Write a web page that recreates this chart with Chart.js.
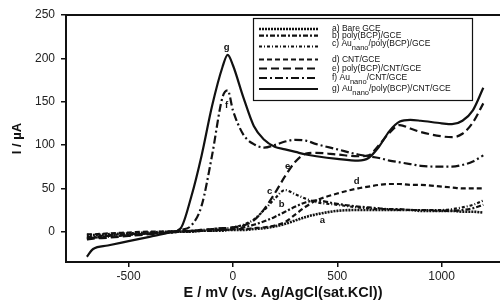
<!DOCTYPE html>
<html>
<head>
<meta charset="utf-8">
<script src="https://cdn.jsdelivr.net/npm/chart.js@4/dist/chart.umd.min.js"></script>
<style>
  html, body { margin: 0; padding: 0; background: #fff; }
  #wrap { width: 500px; height: 302px; }
</style>
</head>
<body>
<div id="wrap"><canvas id="cv"></canvas></div>
<script>
// potential grid (mV) shared by all curves
const E_MV = [-700, -670, -600, -500, -400, -300, -250, -200, -150, -100, -50, -25, 0, 50, 100, 150, 200, 250, 300, 350, 400, 500, 600, 650, 700, 750, 800, 850, 900, 1000, 1050, 1100, 1150, 1200];

// currents (µA)
const I_A = [-4, -4, -3, -2, -1, 0, 0, 0, 1, 1, 1, 2, 2, 2, 3, 4, 6, 9, 13, 17, 20, 24, 25, 25, 25, 25, 25, 25, 24, 24, 24, 23, 23, 22];
const I_B = [-6, -6, -4, -3, -2, -1, 0, 0, 1, 1, 2, 2, 3, 5, 8, 12, 17, 23, 29, 34, 36, 32, 29, 28, 27, 26, 26, 25, 25, 24, 24, 25, 27, 31];
const I_C = [-8, -7, -6, -4, -2, -1, 0, 1, 2, 3, 4, 4, 5, 8, 14, 25, 38, 48, 43, 38, 34, 31, 28, 27, 26, 26, 25, 25, 25, 25, 26, 28, 31, 36];
const I_D = [-3, -3, -2, -1, 0, 0, 1, 1, 1, 2, 2, 2, 3, 3, 4, 5, 7, 11, 20, 29, 36, 44, 50, 52, 54, 55, 55, 54, 54, 52, 51, 50, 50, 50];
const I_E = [-9, -8, -7, -5, -3, -1, 0, 1, 2, 3, 4, 4, 5, 7, 13, 26, 44, 64, 81, 90, 91, 89, 87, 88, 100, 114, 123, 119, 115, 110, 109, 113, 126, 148];
const I_F = [-7, -7, -5, -4, -2, 0, 2, 7, 30, 88, 155, 163, 140, 112, 101, 97, 100, 104, 106, 105, 101, 95, 89, 87, 85, 82, 80, 78, 76, 75, 75, 77, 81, 88];
const I_G = [-29, -20, -16, -11, -6, -1, 4, 40, 88, 145, 190, 204, 192, 155, 122, 106, 98, 95, 92, 89, 87, 84, 82, 85, 98, 116, 127, 129, 128, 125, 124, 128, 140, 166];

const X_TICKS = [-500, 0, 500, 1000];
const Y_TICKS = [0, 50, 100, 150, 200, 250];

const LEGEND_LABELS = [
    "a) Bare GCE",
    "b) poly(BCP)/GCE",
    "c) Au_{nano}/poly(BCP)/GCE",
    "d) CNT/GCE",
    "e) poly(BCP)/CNT/GCE",
    "f) Au_{nano}/CNT/GCE",
    "g) Au_{nano}/poly(BCP)/CNT/GCE",
];

// letters written next to the curves, anchored in data units
const CURVE_TAGS = [
    { t: "g", x: -30, y: 213 },
    { t: "f", x: -30, y: 146 },
    { t: "e", x: 262, y: 75 },
    { t: "d", x: 593, y: 58 },
    { t: "c", x: 176, y: 46 },
    { t: "b", x: 233, y: 31 },
    { t: "a", x: 429, y: 13 },
];

const series = [
    { values: I_A, dash: [2, 1], width: 2.6 },
    { values: I_B, dash: [5, 2, 2, 2], width: 2.2 },
    { values: I_C, dash: [3, 2, 1, 2], width: 2.2 },
    { values: I_D, dash: [5, 3], width: 2.2 },
    { values: I_E, dash: [8, 4], width: 2.2 },
    { values: I_F, dash: [8, 3, 2, 3], width: 2.2 },
    { values: I_G, dash: [], width: 2.2 },
];

const FONT = "'Liberation Sans', Arial, sans-serif";
const INK = "#111";

function drawLabel(ctx, x, y, text) {
    // "_{...}" marks a subscript
    const parts = text.split(/(_\{[^}]*\})/).filter((p) => p.length);
    let cx = x;
    parts.forEach((p) => {
        if (p.startsWith("_{")) {
            const s = p.slice(2, -1);
            ctx.font = "7.5px " + FONT;
            ctx.fillText(s, cx, y + 4);
            cx += ctx.measureText(s).width;
        } else {
            ctx.font = "8.5px " + FONT;
            ctx.fillText(p, cx, y);
            cx += ctx.measureText(p).width;
        }
    });
}

const legendBox = {
    id: "legendBox",
    afterDraw(chart) {
        const ctx = chart.ctx;
        const rows = [29, 35.7, 43.5, 59.5, 68.5, 78, 89];
        ctx.save();
        ctx.fillStyle = "#fff";
        ctx.fillRect(253, 18, 219, 82);
        ctx.strokeStyle = INK;
        ctx.lineWidth = 1.2;
        ctx.strokeRect(253.5, 18.5, 219, 82);
        ctx.fillStyle = INK;
        ctx.textBaseline = "middle";
        series.forEach((s, i) => {
            const y = rows[i];
            ctx.beginPath();
            ctx.setLineDash(s.dash);
            ctx.lineWidth = s.width;
            ctx.strokeStyle = INK;
            ctx.moveTo(259, y + (i === 2 ? 3 : 0));
            ctx.lineTo(318, y + (i === 2 ? 3 : 0));
            ctx.stroke();
            drawLabel(ctx, 332, y, LEGEND_LABELS[i]);
        });
        ctx.restore();
    },
};

const frameAndTags = {
    id: "frameAndTags",
    afterDatasetsDraw(chart) {
        const ctx = chart.ctx;
        const { top, left } = chart.chartArea;
        ctx.save();
        ctx.strokeStyle = INK;
        ctx.lineWidth = 2;
        ctx.beginPath();
        ctx.moveTo(left - 1, top);
        ctx.lineTo(chart.width, top);
        ctx.stroke();
        ctx.fillStyle = INK;
        ctx.font = "bold 9.5px " + FONT;
        ctx.textAlign = "center";
        ctx.textBaseline = "middle";
        const xs = chart.scales.x, ys = chart.scales.y;
        CURVE_TAGS.forEach((tg) => ctx.fillText(tg.t, xs.getPixelForValue(tg.x), ys.getPixelForValue(tg.y)));
        ctx.restore();
    },
};

new Chart(document.getElementById("cv"), {
    type: "line",
    data: {
        datasets: series.map((s, i) => ({
            label: LEGEND_LABELS[i],
            data: E_MV.map((x, k) => ({ x, y: s.values[k] })),
            borderColor: INK,
            borderWidth: s.width,
            borderDash: s.dash,
            pointRadius: 0,
            fill: false,
            cubicInterpolationMode: "monotone",
        })),
    },
    options: {
        responsive: true,
        maintainAspectRatio: false,
        animation: false,
        layout: { padding: { top: 15, right: 0, left: 0, bottom: 0 } },
        plugins: { legend: { display: false }, tooltip: { enabled: false } },
        scales: {
            x: {
                type: "linear",
                min: -800,
                max: 1280,
                afterBuildTicks: (axis) => { axis.ticks = X_TICKS.map((v) => ({ value: v })); },
                afterFit: (axis) => { axis.height = 40; },
                grid: { drawOnChartArea: false, drawTicks: true, tickLength: 5, color: INK, lineWidth: 1.5 },
                border: { display: true, color: INK, width: 2 },
                ticks: { color: "#222", font: { family: FONT, size: 12 }, padding: 2, maxRotation: 0, callback: (v) => String(v) },
                title: { display: true, text: "E / mV (vs. Ag/AgCl(sat.KCl))", color: "#111", font: { family: FONT, size: 14.5, weight: "bold" }, padding: 0 },
            },
            y: {
                min: -35,
                max: 250,
                afterBuildTicks: (axis) => { axis.ticks = Y_TICKS.map((v) => ({ value: v })); },
                afterFit: (axis) => { axis.width = 66; },
                grid: { drawOnChartArea: false, drawTicks: true, tickLength: 5, color: INK, lineWidth: 1.5 },
                border: { display: true, color: INK, width: 2 },
                ticks: { color: "#222", font: { family: FONT, size: 12 }, padding: 6, callback: (v) => String(v) },
                title: { display: true, text: "I / µA", color: "#111", font: { family: FONT, size: 13, weight: "bold" }, padding: { top: 10, bottom: 0 } },
            },
        },
    },
    plugins: [frameAndTags, legendBox],
});
</script>
</body>
</html>
